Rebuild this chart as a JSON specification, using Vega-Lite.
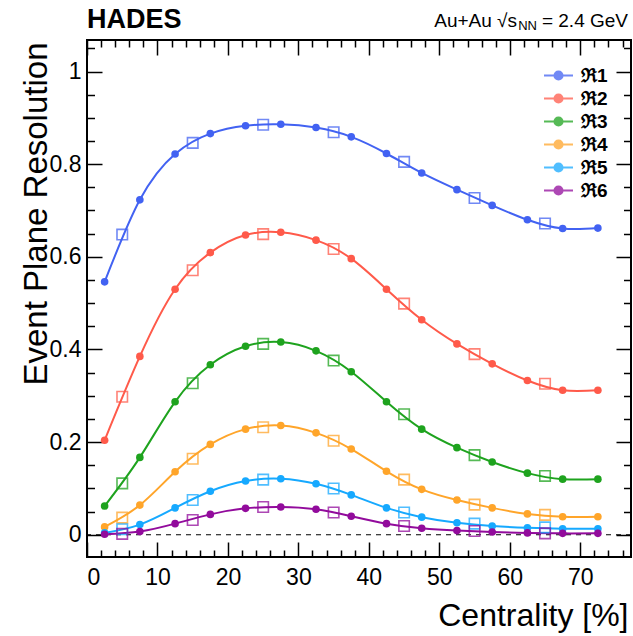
{
  "$schema": "https://vega.github.io/schema/vega-lite/v6.json",
  "width": 544,
  "height": 517,
  "autosize": {"type": "none"},
  "padding": {"left": 87, "top": 40, "right": 2, "bottom": 79},
  "background": "white",
  "config": {
    "font": "Liberation Sans",
    "view": {"stroke": "black", "strokeWidth": 2},
    "axis": {
      "domainColor": "black", "domainWidth": 2,
      "tickColor": "black", "tickWidth": 1.5,
      "labelColor": "black", "titleColor": "black",
      "labelFont": "Liberation Sans", "titleFont": "Liberation Sans",
      "labelFontWeight": "normal", "titleFontWeight": "normal",
      "grid": false
    }
  },
  "data": {"values": [
    {"s":"ℜ1","k":"c","x":2.5,"y":0.546},{"s":"ℜ1","k":"c","x":7.5,"y":0.723},{"s":"ℜ1","k":"c","x":12.5,"y":0.822},{"s":"ℜ1","k":"c","x":17.5,"y":0.866},{"s":"ℜ1","k":"c","x":22.5,"y":0.883},{"s":"ℜ1","k":"c","x":27.5,"y":0.886},{"s":"ℜ1","k":"c","x":32.5,"y":0.879},{"s":"ℜ1","k":"c","x":37.5,"y":0.859},{"s":"ℜ1","k":"c","x":42.5,"y":0.823},{"s":"ℜ1","k":"c","x":47.5,"y":0.781},{"s":"ℜ1","k":"c","x":52.5,"y":0.745},{"s":"ℜ1","k":"c","x":57.5,"y":0.711},{"s":"ℜ1","k":"c","x":62.5,"y":0.680},{"s":"ℜ1","k":"c","x":67.5,"y":0.661},{"s":"ℜ1","k":"c","x":72.5,"y":0.662},
    {"s":"ℜ1","k":"q","x":5,"y":0.648},{"s":"ℜ1","k":"q","x":15,"y":0.846},{"s":"ℜ1","k":"q","x":25,"y":0.885},{"s":"ℜ1","k":"q","x":35,"y":0.869},{"s":"ℜ1","k":"q","x":45,"y":0.805},{"s":"ℜ1","k":"q","x":55,"y":0.727},{"s":"ℜ1","k":"q","x":65,"y":0.672},
    {"s":"ℜ2","k":"c","x":2.5,"y":0.204},{"s":"ℜ2","k":"c","x":7.5,"y":0.385},{"s":"ℜ2","k":"c","x":12.5,"y":0.530},{"s":"ℜ2","k":"c","x":17.5,"y":0.609},{"s":"ℜ2","k":"c","x":22.5,"y":0.647},{"s":"ℜ2","k":"c","x":27.5,"y":0.653},{"s":"ℜ2","k":"c","x":32.5,"y":0.636},{"s":"ℜ2","k":"c","x":37.5,"y":0.596},{"s":"ℜ2","k":"c","x":42.5,"y":0.530},{"s":"ℜ2","k":"c","x":47.5,"y":0.464},{"s":"ℜ2","k":"c","x":52.5,"y":0.412},{"s":"ℜ2","k":"c","x":57.5,"y":0.369},{"s":"ℜ2","k":"c","x":62.5,"y":0.333},{"s":"ℜ2","k":"c","x":67.5,"y":0.312},{"s":"ℜ2","k":"c","x":72.5,"y":0.312},
    {"s":"ℜ2","k":"q","x":5,"y":0.298},{"s":"ℜ2","k":"q","x":15,"y":0.571},{"s":"ℜ2","k":"q","x":25,"y":0.649},{"s":"ℜ2","k":"q","x":35,"y":0.617},{"s":"ℜ2","k":"q","x":45,"y":0.499},{"s":"ℜ2","k":"q","x":55,"y":0.390},{"s":"ℜ2","k":"q","x":65,"y":0.326},
    {"s":"ℜ3","k":"c","x":2.5,"y":0.062},{"s":"ℜ3","k":"c","x":7.5,"y":0.167},{"s":"ℜ3","k":"c","x":12.5,"y":0.287},{"s":"ℜ3","k":"c","x":17.5,"y":0.367},{"s":"ℜ3","k":"c","x":22.5,"y":0.407},{"s":"ℜ3","k":"c","x":27.5,"y":0.416},{"s":"ℜ3","k":"c","x":32.5,"y":0.397},{"s":"ℜ3","k":"c","x":37.5,"y":0.352},{"s":"ℜ3","k":"c","x":42.5,"y":0.287},{"s":"ℜ3","k":"c","x":47.5,"y":0.228},{"s":"ℜ3","k":"c","x":52.5,"y":0.188},{"s":"ℜ3","k":"c","x":57.5,"y":0.157},{"s":"ℜ3","k":"c","x":62.5,"y":0.133},{"s":"ℜ3","k":"c","x":67.5,"y":0.120},{"s":"ℜ3","k":"c","x":72.5,"y":0.120},
    {"s":"ℜ3","k":"q","x":5,"y":0.111},{"s":"ℜ3","k":"q","x":15,"y":0.327},{"s":"ℜ3","k":"q","x":25,"y":0.412},{"s":"ℜ3","k":"q","x":35,"y":0.376},{"s":"ℜ3","k":"q","x":45,"y":0.260},{"s":"ℜ3","k":"q","x":55,"y":0.172},{"s":"ℜ3","k":"q","x":65,"y":0.127},
    {"s":"ℜ4","k":"c","x":2.5,"y":0.017},{"s":"ℜ4","k":"c","x":7.5,"y":0.064},{"s":"ℜ4","k":"c","x":12.5,"y":0.136},{"s":"ℜ4","k":"c","x":17.5,"y":0.195},{"s":"ℜ4","k":"c","x":22.5,"y":0.228},{"s":"ℜ4","k":"c","x":27.5,"y":0.236},{"s":"ℜ4","k":"c","x":32.5,"y":0.220},{"s":"ℜ4","k":"c","x":37.5,"y":0.185},{"s":"ℜ4","k":"c","x":42.5,"y":0.137},{"s":"ℜ4","k":"c","x":47.5,"y":0.098},{"s":"ℜ4","k":"c","x":52.5,"y":0.075},{"s":"ℜ4","k":"c","x":57.5,"y":0.058},{"s":"ℜ4","k":"c","x":62.5,"y":0.045},{"s":"ℜ4","k":"c","x":67.5,"y":0.039},{"s":"ℜ4","k":"c","x":72.5,"y":0.039},
    {"s":"ℜ4","k":"q","x":5,"y":0.037},{"s":"ℜ4","k":"q","x":15,"y":0.164},{"s":"ℜ4","k":"q","x":25,"y":0.232},{"s":"ℜ4","k":"q","x":35,"y":0.203},{"s":"ℜ4","k":"q","x":45,"y":0.119},{"s":"ℜ4","k":"q","x":55,"y":0.065},{"s":"ℜ4","k":"q","x":65,"y":0.043},
    {"s":"ℜ5","k":"c","x":2.5,"y":0.004},{"s":"ℜ5","k":"c","x":7.5,"y":0.022},{"s":"ℜ5","k":"c","x":12.5,"y":0.058},{"s":"ℜ5","k":"c","x":17.5,"y":0.094},{"s":"ℜ5","k":"c","x":22.5,"y":0.116},{"s":"ℜ5","k":"c","x":27.5,"y":0.121},{"s":"ℜ5","k":"c","x":32.5,"y":0.110},{"s":"ℜ5","k":"c","x":37.5,"y":0.086},{"s":"ℜ5","k":"c","x":42.5,"y":0.058},{"s":"ℜ5","k":"c","x":47.5,"y":0.038},{"s":"ℜ5","k":"c","x":52.5,"y":0.026},{"s":"ℜ5","k":"c","x":57.5,"y":0.019},{"s":"ℜ5","k":"c","x":62.5,"y":0.015},{"s":"ℜ5","k":"c","x":67.5,"y":0.013},{"s":"ℜ5","k":"c","x":72.5,"y":0.013},
    {"s":"ℜ5","k":"q","x":5,"y":0.012},{"s":"ℜ5","k":"q","x":15,"y":0.075},{"s":"ℜ5","k":"q","x":25,"y":0.119},{"s":"ℜ5","k":"q","x":35,"y":0.100},{"s":"ℜ5","k":"q","x":45,"y":0.048},{"s":"ℜ5","k":"q","x":55,"y":0.024},{"s":"ℜ5","k":"q","x":65,"y":0.016},
    {"s":"ℜ6","k":"c","x":2.5,"y":0.001},{"s":"ℜ6","k":"c","x":7.5,"y":0.007},{"s":"ℜ6","k":"c","x":12.5,"y":0.024},{"s":"ℜ6","k":"c","x":17.5,"y":0.044},{"s":"ℜ6","k":"c","x":22.5,"y":0.057},{"s":"ℜ6","k":"c","x":27.5,"y":0.060},{"s":"ℜ6","k":"c","x":32.5,"y":0.055},{"s":"ℜ6","k":"c","x":37.5,"y":0.040},{"s":"ℜ6","k":"c","x":42.5,"y":0.024},{"s":"ℜ6","k":"c","x":47.5,"y":0.014},{"s":"ℜ6","k":"c","x":52.5,"y":0.009},{"s":"ℜ6","k":"c","x":57.5,"y":0.006},{"s":"ℜ6","k":"c","x":62.5,"y":0.004},{"s":"ℜ6","k":"c","x":67.5,"y":0.003},{"s":"ℜ6","k":"c","x":72.5,"y":0.003},
    {"s":"ℜ6","k":"q","x":5,"y":0.002},{"s":"ℜ6","k":"q","x":15,"y":0.032},{"s":"ℜ6","k":"q","x":25,"y":0.060},{"s":"ℜ6","k":"q","x":35,"y":0.048},{"s":"ℜ6","k":"q","x":45,"y":0.019},{"s":"ℜ6","k":"q","x":55,"y":0.008},{"s":"ℜ6","k":"q","x":65,"y":0.003}
  ]},
  "resolve": {"axis": {"x": "independent", "y": "independent"}},
  "layer": [
    {
      "mark": {"type": "rule", "color": "black", "strokeWidth": 1, "strokeDash": [5, 5]},
      "data": {"values": [{"z": 0}]},
      "encoding": {
        "y": {"field": "z", "type": "quantitative", "axis": null, "scale": {"domain": [-0.048, 1.068], "nice": false, "zero": false}}
      }
    },
    {
      "transform": [{"filter": "datum.k === 'c'"}],
      "mark": {"type": "line", "interpolate": "natural", "strokeWidth": 2},
      "encoding": {
        "x": {"field": "x", "type": "quantitative", "scale": {"domain": [0, 77.2], "nice": false, "zero": false},
          "axis": {"orient": "top", "labels": false, "title": null, "domain": false,
            "values": [0,2,4,6,8,10,12,14,16,18,20,22,24,26,28,30,32,34,36,38,40,42,44,46,48,50,52,54,56,58,60,62,64,66,68,70,72,74,76],
            "tickSize": {"condition": {"test": "abs(datum.value/10 - round(datum.value/10)) < 0.001", "value": -15}, "value": -7}}},
        "y": {"field": "y", "type": "quantitative", "scale": {"domain": [-0.048, 1.068], "nice": false, "zero": false},
          "axis": {"orient": "right", "labels": false, "title": null, "domain": false,
            "values": [0,0.05,0.1,0.15,0.2,0.25,0.3,0.35,0.4,0.45,0.5,0.55,0.6,0.65,0.7,0.75,0.8,0.85,0.9,0.95,1,1.05],
            "tickSize": {"condition": {"test": "abs(datum.value*5 - round(datum.value*5)) < 0.001", "value": -15}, "value": -7.5}}},
        "color": {"field": "s", "type": "nominal"},
        "detail": {"field": "s"}
      }
    },
    {
      "transform": [{"filter": "datum.k === 'q'"}],
      "mark": {"type": "point", "shape": "square", "filled": false, "size": 110, "strokeWidth": 1.6, "opacity": 0.75},
      "encoding": {
        "x": {"field": "x", "type": "quantitative", "axis": null},
        "y": {"field": "y", "type": "quantitative", "axis": null},
        "color": {"field": "s", "type": "nominal"}
      }
    },
    {
      "transform": [{"filter": "datum.k === 'c'"}],
      "mark": {"type": "circle", "size": 58, "opacity": 1},
      "encoding": {
        "x": {"field": "x", "type": "quantitative",
          "axis": {"orient": "bottom", "domain": false,
            "values": [0,2,4,6,8,10,12,14,16,18,20,22,24,26,28,30,32,34,36,38,40,42,44,46,48,50,52,54,56,58,60,62,64,66,68,70,72,74,76],
            "tickSize": {"condition": {"test": "abs(datum.value/10 - round(datum.value/10)) < 0.001", "value": -15}, "value": -7},
            "labelExpr": "abs(datum.value/10 - round(datum.value/10)) < 0.001 ? datum.label : ''",
            "labelFontSize": 23, "labelPadding": 24, "labelBaseline": "top",
            "title": "Centrality [%]", "titleFontSize": 32, "titleAlign": "right", "titleBaseline": "alphabetic",
            "titleX": 541, "titleY": 68}},
        "y": {"field": "y", "type": "quantitative",
          "axis": {"orient": "left", "domain": false,
            "values": [0,0.05,0.1,0.15,0.2,0.25,0.3,0.35,0.4,0.45,0.5,0.55,0.6,0.65,0.7,0.75,0.8,0.85,0.9,0.95,1,1.05],
            "tickSize": {"condition": {"test": "abs(datum.value*5 - round(datum.value*5)) < 0.001", "value": -15}, "value": -7.5},
            "labelExpr": "abs(datum.value*5 - round(datum.value*5)) < 0.001 ? toString(round(datum.value*10)/10) : ''",
            "labelFontSize": 23, "labelPadding": 21,
            "title": "Event Plane Resolution", "titleFontSize": 33, "titleAngle": 270, "titleAlign": "right", "titleBaseline": "alphabetic",
            "titleX": -41, "titleY": 2}},
        "color": {"field": "s", "type": "nominal",
          "scale": {"domain": ["ℜ1","ℜ2","ℜ3","ℜ4","ℜ5","ℜ6"], "range": ["#4262f2","#ff5a4a","#1ea31e","#ffa52a","#16a9ff","#920b9c"]},
          "legend": {"orient": "none", "legendX": 456, "legendY": 24, "title": null, "padding": 0,
            "labelFont": "Liberation Sans", "labelFontWeight": "bold", "labelFontSize": 19, "labelColor": "black",
            "labelOffset": 7, "rowPadding": 0, "clipHeight": 23,
            "symbolType": "M-1,0H1M-0.28,0A0.28,0.28,0,1,0,0.28,0A0.28,0.28,0,1,0,-0.28,0Z",
            "symbolSize": 841, "symbolStrokeWidth": 2,
            "encode": {"symbols": {"update": {
              "shape": {"value": "M-1,0H1M-0.28,0A0.28,0.28,0,1,0,0.28,0A0.28,0.28,0,1,0,-0.28,0Z"},
              "size": {"value": 841}, "strokeWidth": {"value": 2}, "opacity": {"value": 1},
              "fill": {"scale": "color", "field": "value"}, "stroke": {"scale": "color", "field": "value"}}}}}
        }
      }
    },
    {
      "data": {"values": [{"t": "HADES"}]},
      "mark": {"type": "text", "align": "left", "baseline": "alphabetic", "fontSize": 27, "fontWeight": "bold", "font": "Liberation Sans", "color": "black"},
      "encoding": {"x": {"datum": 0, "type": "quantitative", "axis": null}, "y": {"datum": 1.094, "type": "quantitative", "axis": null}, "text": {"field": "t"}}
    },
    {
      "data": {"values": [{"t": "= 2.4 GeV"}]},
      "mark": {"type": "text", "align": "right", "baseline": "alphabetic", "fontSize": 19, "font": "Liberation Sans", "color": "black", "dx": -3},
      "encoding": {"x": {"datum": 77.2, "type": "quantitative", "axis": null}, "y": {"datum": 1.096, "type": "quantitative", "axis": null}, "text": {"field": "t"}}
    },
    {
      "data": {"values": [{"t": "NN"}]},
      "mark": {"type": "text", "align": "right", "baseline": "alphabetic", "fontSize": 13, "font": "Liberation Sans", "color": "black", "dx": -94, "dy": 3},
      "encoding": {"x": {"datum": 77.2, "type": "quantitative", "axis": null}, "y": {"datum": 1.096, "type": "quantitative", "axis": null}, "text": {"field": "t"}}
    },
    {
      "data": {"values": [{"t": "Au+Au √s"}]},
      "mark": {"type": "text", "align": "right", "baseline": "alphabetic", "fontSize": 19, "font": "Liberation Sans", "color": "black", "dx": -114},
      "encoding": {"x": {"datum": 77.2, "type": "quantitative", "axis": null}, "y": {"datum": 1.096, "type": "quantitative", "axis": null}, "text": {"field": "t"}}
    }
  ]
}
